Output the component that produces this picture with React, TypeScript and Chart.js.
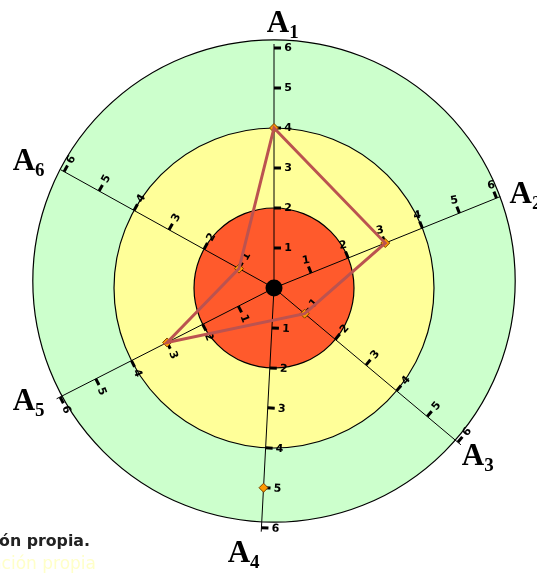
import React, { useEffect, useRef } from 'react';
import { Chart, registerables } from 'chart.js';

Chart.register(...registerables);

// ---- data ----
const axisNames = ['A', 'A', 'A', 'A', 'A', 'A'];
const axisSubs = ['1', '2', '3', '4', '5', '6'];
const lineValues: (number | null)[] = [4, 3, 1, null, 3, 1];
const markerValues: (number | null)[] = [4, 3, 1, 5, 3, 1];
const tickValues = [1, 2, 3, 4, 5, 6];
const zoneLimits = [2, 4, 6];
const footerText = 'Fuente: Elaboración propia.';
const footerGhost = 'Fuente: Elaboración propia';

// ---- layout (degrees clockwise from top, one radar slot per degree) ----
const SLOTS = 360;
const axisAngles = [0, 68, 130, 183, 243, 299];
const tickSide = [1, -1, -1, -1, -1, 1];
const tickRotation = [0, -10, -50, 3, 68, -61];
const nameAngle = [1.9, 69.8, 129.8, 186.5, 245, 297.1];
const nameRadius = [6.6, 6.7, 6.63, 6.7, 6.77, 6.89];
const zoneColors = ['#ff5a2c', '#ffff99', '#ccffcc'];

const slotLabels = Array.from({ length: SLOTS }, (_, i) => {
  const k = axisAngles.indexOf(i);
  return k >= 0 ? axisNames[k] + axisSubs[k] : '';
});
const toSlots = (vals: (number | null)[]) =>
  Array.from({ length: SLOTS }, (_, i) => {
    const k = axisAngles.indexOf(i);
    return k >= 0 ? vals[k] : null;
  });

const rad = (d: number) => (d * Math.PI) / 180;

const decorPlugin = {
  id: 'decor',
  beforeDraw(chart: any) {
    const s = chart.scales.r;
    const ctx = chart.ctx;
    const cx = s.xCenter;
    const cy = s.yCenter;
    ctx.save();
    // outer green zone (slightly shifted, as in the reference)
    ctx.beginPath();
    ctx.arc(cx, cy - 7, s.getDistanceFromCenterForValue(zoneLimits[2] + 0.03), 0, Math.PI * 2);
    ctx.fillStyle = zoneColors[2];
    ctx.fill();
    ctx.lineWidth = 1.2;
    ctx.strokeStyle = '#000';
    ctx.stroke();
    // yellow
    ctx.beginPath();
    ctx.arc(cx, cy, s.getDistanceFromCenterForValue(zoneLimits[1]), 0, Math.PI * 2);
    ctx.fillStyle = zoneColors[1];
    ctx.fill();
    // red
    ctx.beginPath();
    ctx.arc(cx, cy, s.getDistanceFromCenterForValue(zoneLimits[0]), 0, Math.PI * 2);
    ctx.fillStyle = zoneColors[0];
    ctx.fill();
    ctx.restore();
  },
  beforeDatasetsDraw(chart: any) {
    const s = chart.scales.r;
    const ctx = chart.ctx;
    ctx.save();
    ctx.font = 'bold 11px "DejaVu Sans", Verdana, sans-serif';
    ctx.textAlign = 'center';
    ctx.textBaseline = 'middle';
    ctx.fillStyle = '#000';
    ctx.strokeStyle = '#000';
    axisAngles.forEach((slot, k) => {
      const a = rad(slot);
      const px = Math.cos(a) * tickSide[k];
      const py = Math.sin(a) * tickSide[k];
      tickValues.forEach((v) => {
        const p = s.getPointPositionForValue(slot, v);
        ctx.beginPath();
        ctx.lineWidth = 3;
        ctx.moveTo(p.x, p.y);
        ctx.lineTo(p.x + px * 7, p.y + py * 7);
        ctx.stroke();
        ctx.save();
        ctx.translate(p.x + px * 14, p.y + py * 14);
        ctx.rotate(rad(tickRotation[k]));
        ctx.fillText(String(v), 0, 0.5);
        ctx.restore();
      });
    });
    // centre dot
    ctx.beginPath();
    ctx.arc(s.xCenter, s.yCenter, 8.5, 0, Math.PI * 2);
    ctx.fillStyle = '#000';
    ctx.fill();
    ctx.restore();
  },
  afterDraw(chart: any) {
    const s = chart.scales.r;
    const ctx = chart.ctx;
    ctx.save();
    ctx.fillStyle = '#000';
    ctx.textBaseline = 'alphabetic';
    ctx.textAlign = 'left';
    axisNames.forEach((name, k) => {
      const a = rad(nameAngle[k]);
      const d = s.getDistanceFromCenterForValue(nameRadius[k]);
      const cx = s.xCenter + Math.sin(a) * d;
      const cy = s.yCenter - Math.cos(a) * d;
      const big = 'bold 31px "Liberation Serif", "Times New Roman", serif';
      const small = 'bold 19px "Liberation Serif", "Times New Roman", serif';
      ctx.font = big;
      const wA = ctx.measureText(name).width;
      ctx.font = small;
      const wS = ctx.measureText(axisSubs[k]).width;
      const left = cx - (wA + wS) / 2;
      const base = cy + 7.5;
      ctx.font = big;
      ctx.fillText(name, left, base);
      ctx.font = small;
      ctx.fillText(axisSubs[k], left + wA, base + 6);
    });
    ctx.restore();
  },
};

export default function App() {
  const ref = useRef<HTMLCanvasElement>(null);
  useEffect(() => {
    if (!ref.current) return;
    const chart = new Chart(ref.current, {
      type: 'radar',
      data: {
        labels: slotLabels,
        datasets: [
          {
            label: 'perfil',
            data: toSlots(lineValues),
            borderColor: '#bb5350',
            backgroundColor: 'transparent',
            borderWidth: 3,
            pointRadius: 0,
            pointHoverRadius: 0,
            fill: false,
            spanGaps: true,
          } as any,
          {
            label: 'valores',
            data: toSlots(markerValues),
            showLine: false,
            pointStyle: 'rectRot',
            pointRadius: 4.5,
            pointBackgroundColor: '#ff9900',
            pointBorderColor: '#7a4200',
            pointBorderWidth: 1,
            borderWidth: 0,
            backgroundColor: 'transparent',
          } as any,
        ],
      },
      options: {
        responsive: false,
        animation: false,
        events: [],
        layout: { padding: { left: 30, right: 19, top: 44, bottom: 42 } },
        plugins: { legend: { display: false }, tooltip: { enabled: false } },
        scales: {
          r: {
            min: 0,
            max: 6.1,
            startAngle: 0,
            ticks: { display: false, stepSize: 1 },
            grid: {
              circular: true,
              color: '#000',
              lineWidth: (c: any) =>
                c.tick && (c.tick.value === zoneLimits[0] || c.tick.value === zoneLimits[1]) ? 1.2 : 0,
            },
            angleLines: {
              display: true,
              color: '#000',
              lineWidth: (c: any) => (axisAngles.includes(c.index) ? 1 : 0),
            },
            pointLabels: { display: false },
          },
        },
      },
      plugins: [decorPlugin],
    });
    return () => chart.destroy();
  }, []);

  return (
    <div
      style={{
        position: 'absolute',
        left: 0,
        top: 0,
        width: 537,
        height: 574,
        overflow: 'hidden',
        background: '#fff',
      }}
    >
      <canvas ref={ref} width={537} height={574} style={{ position: 'absolute', left: 0, top: 0 }} />
      <div
        style={{
          position: 'absolute',
          right: 447,
          top: 532,
          whiteSpace: 'nowrap',
          font: 'bold 15.8px "DejaVu Sans", Verdana, sans-serif',
          lineHeight: '18px',
          color: '#222',
        }}
      >
        {footerText}
      </div>
      <div
        style={{
          position: 'absolute',
          right: 441,
          top: 554,
          whiteSpace: 'nowrap',
          font: '17px "DejaVu Sans", Verdana, sans-serif',
          lineHeight: '19px',
          color: '#ffffc8',
        }}
      >
        {footerGhost}
      </div>
    </div>
  );
}
